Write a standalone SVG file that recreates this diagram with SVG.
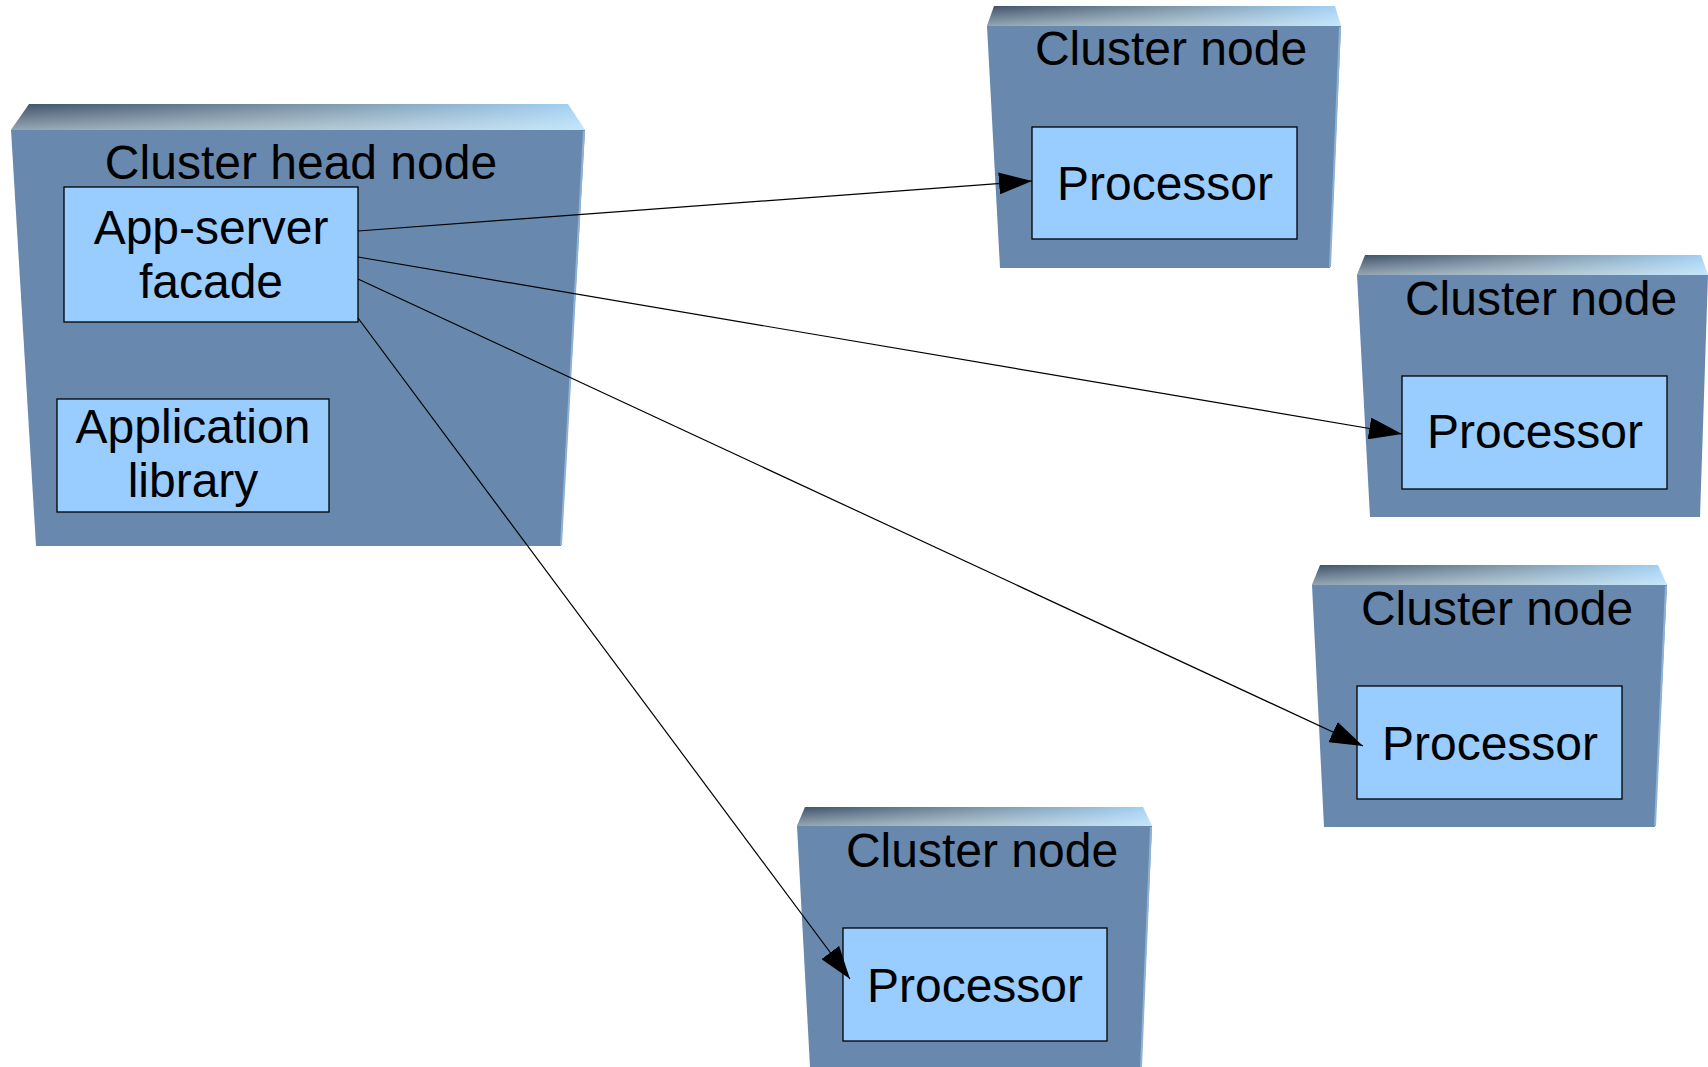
<svg xmlns="http://www.w3.org/2000/svg" width="1708" height="1067" viewBox="0 0 1708 1067">
<style>
.body{fill:#6889ad;}
.edge{fill:none;stroke:#8db2d6;stroke-width:2;}
.topH{fill:url(#gH);}
.topV{fill:url(#gV);}
.box{fill:#99ccff;stroke:#000;stroke-width:1.3;}
.t{font-family:"Liberation Sans",Arial,sans-serif;font-size:48px;fill:#000;text-anchor:middle;}
.conn{stroke:#000;stroke-width:1.2;fill:none;marker-end:url(#arr);}
</style>
<defs>
<linearGradient id="gH" x1="0" y1="0" x2="1" y2="0">
<stop offset="0" stop-color="#3d5169"/>
<stop offset="0.5" stop-color="#7a93a6"/>
<stop offset="1" stop-color="#a2d2f6"/>
</linearGradient>
<linearGradient id="gV" x1="0" y1="0" x2="0" y2="1">
<stop offset="0" stop-color="#ffffff" stop-opacity="0"/>
<stop offset="1" stop-color="#e8fbff" stop-opacity="0.5"/>
</linearGradient>
<marker id="arr" viewBox="0 0 33 22" refX="33" refY="11" markerWidth="33" markerHeight="22" markerUnits="userSpaceOnUse" orient="auto">
<path d="M0,0 L33,11 L0,22 z" fill="#000"/>
</marker>
</defs>

<g id="head-node">
<polygon class="body" points="11,130 585,130 561,546 36,546"/>
<line class="edge" x1="584" y1="131" x2="561" y2="545"/>
<polygon class="topH" points="29,104 568,104 585,130 11,130"/>
<polygon class="topV" points="29,104 568,104 585,130 11,130"/>
<text class="t" x="301" y="179">Cluster head node</text>
<g id="app-server-facade">
<rect class="box" x="64" y="187" width="294" height="135"/>
<text class="t" x="211" y="244">App-server</text>
<text class="t" x="211" y="298">facade</text>
</g>
<g id="application-library">
<rect class="box" x="57" y="399" width="272" height="113"/>
<text class="t" x="193" y="443">Application</text>
<text class="t" x="193" y="497">library</text>
</g>
</g>

<g id="cluster-node-1">
<polygon class="body" points="987,26 1341,26 1330,268 1000,268"/>
<line class="edge" x1="1340" y1="27" x2="1330" y2="267"/>
<polygon class="topH" points="994,6 1335,6 1341,26 987,26"/>
<polygon class="topV" points="994,6 1335,6 1341,26 987,26"/>
<text class="t" x="1171" y="65">Cluster node</text>
<rect class="box" x="1032" y="127" width="265" height="112"/>
<text class="t" x="1165" y="200">Processor</text>
</g>

<g id="cluster-node-2">
<polygon class="body" points="1357,275 1708,275 1700,517 1370,517"/>
<polygon class="topH" points="1365,255 1701,255 1708,275 1357,275"/>
<polygon class="topV" points="1365,255 1701,255 1708,275 1357,275"/>
<text class="t" x="1541" y="315">Cluster node</text>
<rect class="box" x="1402" y="376" width="265" height="113"/>
<text class="t" x="1535" y="448">Processor</text>
</g>

<g id="cluster-node-3">
<polygon class="body" points="1312,585 1667,585 1655,827 1324,827"/>
<line class="edge" x1="1666" y1="586" x2="1655" y2="826"/>
<polygon class="topH" points="1320,565 1658,565 1667,585 1312,585"/>
<polygon class="topV" points="1320,565 1658,565 1667,585 1312,585"/>
<text class="t" x="1497" y="625">Cluster node</text>
<rect class="box" x="1357" y="686" width="265" height="113"/>
<text class="t" x="1490" y="760">Processor</text>
</g>

<g id="cluster-node-4">
<polygon class="body" points="797,826 1152,826 1141,1067 810,1067"/>
<line class="edge" x1="1151" y1="827" x2="1141" y2="1067"/>
<polygon class="topH" points="805,807 1143,807 1152,826 797,826"/>
<polygon class="topV" points="805,807 1143,807 1152,826 797,826"/>
<text class="t" x="982" y="867">Cluster node</text>
<rect class="box" x="843" y="928" width="264" height="113"/>
<text class="t" x="975" y="1002">Processor</text>
</g>

<g id="connectors">
<line class="conn" x1="358" y1="231" x2="1032" y2="181"/>
<line class="conn" x1="358" y1="257" x2="1402" y2="434"/>
<line class="conn" x1="358" y1="279" x2="1363" y2="746"/>
<line class="conn" x1="358" y1="318" x2="850" y2="979"/>
</g>
</svg>
